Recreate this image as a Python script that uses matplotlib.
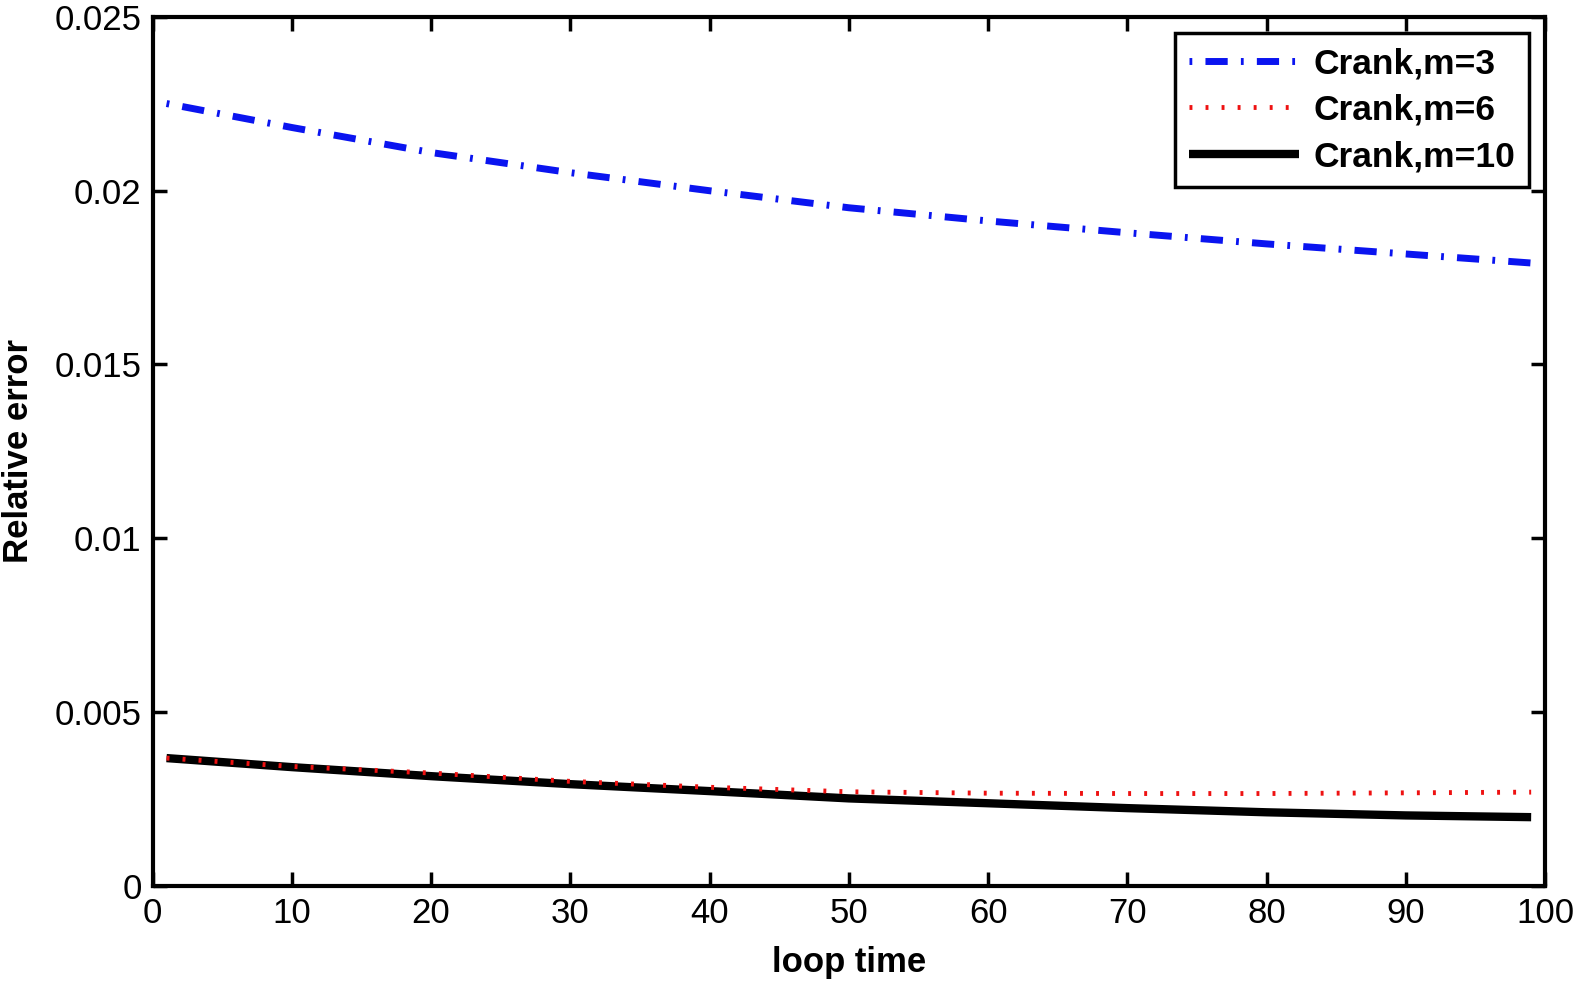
import matplotlib
matplotlib.use("Agg")
import matplotlib.pyplot as plt
import numpy as np

plt.rcParams['font.family'] = ['Liberation Sans', 'DejaVu Sans']

x_pts = [1, 10, 20, 30, 40, 50, 60, 70, 80, 90, 99]
m3 = [0.02251, 0.02182, 0.02110, 0.02052, 0.02000, 0.01951, 0.01913, 0.01879, 0.01847, 0.01818, 0.01792]
m6 = [0.00367, 0.00343, 0.00324, 0.00300, 0.00283, 0.00270, 0.00266, 0.00265, 0.00265, 0.00267, 0.00269]
m10 = [0.00367, 0.00341, 0.00315, 0.00292, 0.00272, 0.00251, 0.00237, 0.00223, 0.00211, 0.00202, 0.00197]

xt = [0, 10, 20, 30, 40, 50, 60, 70, 80, 90, 100]
yt = [0, 0.005, 0.01, 0.015, 0.02, 0.025]
ytl = ['0', '0.005', '0.01', '0.015', '0.02', '0.025']

fig = plt.figure(figsize=(15.75, 9.84), dpi=100)
ax = fig.add_axes([0.0969, 0.1, 0.8841, 0.8827])

ax.plot(x_pts, m10, color='black', lw=6, solid_capstyle='butt', label='Crank,m=10', zorder=2)
ax.plot(x_pts, m6, color='#ee1111', lw=3.5, linestyle=(0, (0.6, 2.7)), label='Crank,m=6', zorder=3)
ax.plot(x_pts, m3, color='#0a14f0', lw=5, linestyle=(0, (0.4, 1.9, 3.2, 1.9)), label='Crank,m=3', zorder=3)

ax.set_xlim(0, 100)
ax.set_ylim(0, 0.025)
ax.set_xticks(xt)
ax.set_yticks(yt)
ax.set_yticklabels(ytl)
ax.tick_params(direction='in', length=10, width=2.5, labelsize=25, top=True, right=True, pad=8)
for s in ax.spines.values():
    s.set_linewidth(3)

ax.set_xlabel('loop time', fontsize=25, fontweight='bold', labelpad=12)
ax.set_ylabel('Relative error', fontsize=25, fontweight='bold', labelpad=14)

h, l = ax.get_legend_handles_labels()
order = [2, 1, 0]
leg = ax.legend([h[i] for i in order], [l[i] for i in order], loc='upper right',
                bbox_to_anchor=(0.9885, 0.9815), borderaxespad=0,
                prop={'weight': 'bold', 'size': 25.5},
                fancybox=False, edgecolor='black', framealpha=1, handlelength=3.1,
                borderpad=0.4, labelspacing=0.38, handletextpad=0.4)
leg.get_frame().set_linewidth(2.5)

fig.savefig('out.png', dpi=100)
